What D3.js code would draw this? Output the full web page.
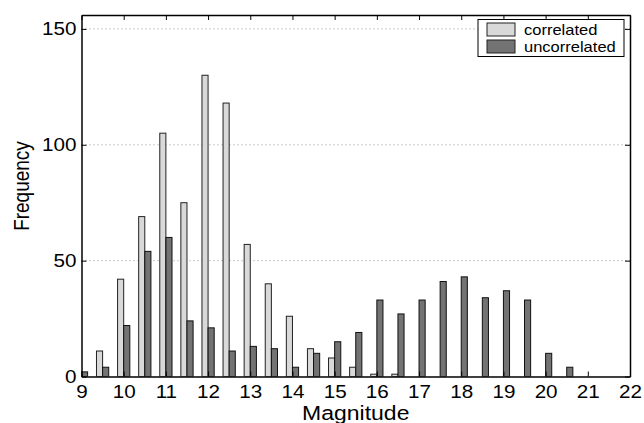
<!DOCTYPE html>
<html>
<head>
<meta charset="utf-8">
<script src="https://cdn.jsdelivr.net/npm/d3@7"></script>
<style>
  html, body { margin: 0; padding: 0; background: #fff; }
  svg { display: block; font-family: "Liberation Sans", Arial, Helvetica, sans-serif; }
</style>
</head>
<body>
<svg id="chart" width="644" height="423"></svg>
<script>
// Histogram bin centres (magnitude)
const bins = [9, 9.5, 10, 10.5, 11, 11.5, 12, 12.5, 13, 13.5, 14, 14.5, 15, 15.5,
              16, 16.5, 17, 17.5, 18, 18.5, 19, 19.5, 20, 20.5, 21, 21.5, 22];
// Counts per bin
const correlated   = [0, 11, 42, 69, 105, 75, 130, 118, 57, 40, 26, 12, 8, 4,
                      1, 1, 0, 0, 0, 0, 0, 0, 0, 0, 0, 0, 0];
const uncorrelated = [2, 4, 22, 54, 60, 24, 21, 11, 13, 12, 4, 10, 15, 19,
                      33, 27, 33, 41, 43, 34, 37, 33, 10, 4, 0, 0, 0];
const seriesNames = ["correlated", "uncorrelated"];
const xTicks = d3.range(9, 23);
const yTicks = [0, 50, 100, 150];

const colors = { correlated: "#d9d9d9", uncorrelated: "#737373" };

const svg = d3.select("#chart");
const L = 81.5, R = 630, T = 15, B = 376.5;
const SX = 1.18; // horizontal widening of the lettering

const x = d3.scaleLinear().domain([9, 22]).range([L, R]);
const y = d3.scaleLinear().domain([0, 156]).range([B, T]);
const barW = 0.145; // bar width in magnitude units

// clip for bars
svg.append("defs").append("clipPath").attr("id", "plotclip")
  .append("rect").attr("x", L).attr("y", T).attr("width", R - L).attr("height", B - T);

// dotted horizontal grid
svg.append("g").selectAll("line").data(yTicks.filter(d => d > 0)).join("line")
  .attr("x1", L).attr("x2", R)
  .attr("y1", d => y(d)).attr("y2", d => y(d))
  .attr("stroke", "#999").attr("stroke-width", 1)
  .attr("stroke-dasharray", "1,3");

// bars
const gBars = svg.append("g").attr("clip-path", "url(#plotclip)");
const data = bins.map((b, i) => ({ b, c: correlated[i], u: uncorrelated[i] }));
gBars.selectAll("rect.c").data(data.filter(d => d.c > 0)).join("rect")
  .attr("class", "c")
  .attr("x", d => x(d.b - barW))
  .attr("width", d => x(d.b) - x(d.b - barW))
  .attr("y", d => y(d.c))
  .attr("height", d => y(0) - y(d.c))
  .attr("fill", colors.correlated).attr("stroke", "#222").attr("stroke-width", 1);
gBars.selectAll("rect.u").data(data.filter(d => d.u > 0)).join("rect")
  .attr("class", "u")
  .attr("x", d => x(d.b))
  .attr("width", d => x(d.b + barW) - x(d.b))
  .attr("y", d => y(d.u))
  .attr("height", d => y(0) - y(d.u))
  .attr("fill", colors.uncorrelated).attr("stroke", "#111").attr("stroke-width", 1);

// axes (ticks pointing inward)
const fontSize = "17.5px";
const xAxis = d3.axisBottom(x).tickValues(xTicks).tickFormat(d3.format("d"))
  .tickSizeInner(-5).tickSizeOuter(0).tickPadding(9);
const gx = svg.append("g").attr("transform", `translate(0,${B})`).call(xAxis);
const xAxisTop = d3.axisTop(x).tickValues(xTicks).tickFormat("")
  .tickSizeInner(-5).tickSizeOuter(0);
const gxt = svg.append("g").attr("transform", `translate(0,${T})`).call(xAxisTop);

const yAxis = d3.axisLeft(y).tickValues(yTicks).tickFormat(d3.format("d"))
  .tickSizeInner(-5).tickSizeOuter(0).tickPadding(5);
const gy = svg.append("g").attr("transform", `translate(${L},0)`).call(yAxis);
const yAxisR = d3.axisRight(y).tickValues(yTicks).tickFormat("")
  .tickSizeInner(-5).tickSizeOuter(0);
const gyr = svg.append("g").attr("transform", `translate(${R},0)`).call(yAxisR);

[gx, gxt, gy, gyr].forEach(g => {
  g.select(".domain").attr("stroke", "#000").attr("stroke-width", 1.5);
  g.selectAll(".tick line").attr("stroke", "#000").attr("stroke-width", 1);
  g.selectAll(".tick text").attr("fill", "#000")
    .style("font-size", fontSize)
    .style("font-family", '"Liberation Sans", Arial, sans-serif');
});
// widen tick lettering about each label's anchor
gx.selectAll(".tick text").attr("transform", `scale(${SX},1)`);
gy.selectAll(".tick text").attr("x", -5 / SX).attr("transform", `scale(${SX},1)`);

// axis titles
svg.append("text")
  .attr("transform", `translate(${(L + R) / 2},419.5) scale(${SX},1)`)
  .attr("text-anchor", "middle")
  .style("font-size", "19.5px")
  .text("Magnitude");
svg.append("text")
  .attr("transform", `translate(28.5,186) scale(${SX},1) rotate(-90)`)
  .attr("text-anchor", "middle")
  .style("font-size", "19px")
  .text("Frequency");

// legend
const lg = svg.append("g");
lg.append("rect").attr("x", 478).attr("y", 19.5).attr("width", 146).attr("height", 37)
  .attr("fill", "#fff").attr("stroke", "#000").attr("stroke-width", 1);
seriesNames.forEach((name, i) => {
  const yy = 23 + i * 17;
  lg.append("rect").attr("x", 487).attr("y", yy).attr("width", 28).attr("height", 13)
    .attr("fill", colors[name]).attr("stroke", "#222").attr("stroke-width", 1);
  lg.append("text")
    .attr("transform", `translate(524,${yy + 11.5}) scale(${SX},1)`)
    .style("font-size", "14px").text(name);
});
</script>
</body>
</html>
